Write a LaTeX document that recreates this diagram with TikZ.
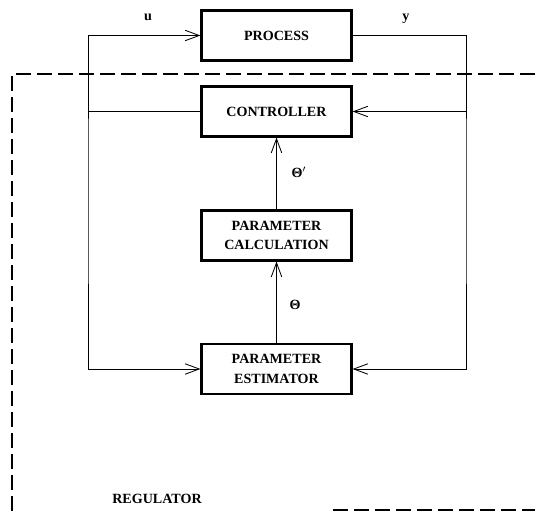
\documentclass[tikz,border=0pt]{standalone}
\usepackage{fontspec}
\setmainfont{Liberation Serif}
\usetikzlibrary{arrows.meta}

\begin{document}
\begin{tikzpicture}[x=0.025cm, y=-0.025cm,
      block/.style={
        draw,
        line width=1.5pt,
        minimum width=3.75cm,
        minimum height=1.25cm,
        align=center,
        font=\bfseries   % caps-only labels inside the boxes
      },
      sig/.style={line width=0.6pt, -{Straight Barb[length=3.5mm,width=2.6mm]}},
      sigboth/.style={line width=0.6pt, {Straight Barb[length=3.5mm,width=2.6mm]}-{Straight Barb[length=3.5mm,width=2.6mm]}},
      lbl/.style={font=\bfseries}
    ]
      \useasboundingbox (0,0) rectangle (535,511);

      \node[block] (proc) at (276.5,35.5) {PROCESS};
      \node[block] (ctrl) at (276.5,111.5) {CONTROLLER};
      \node[block] (calc) at (276.5,235.5) {PARAMETER\\[2pt]CALCULATION};
      \node[block] (est)  at (276.5,369)   {PARAMETER\\[2pt]ESTIMATOR};

      % the two feedback rails
      \coordinate (ul) at (88,200);
      \coordinate (ur) at (466,200);

      \node[lbl] (u) at (148,17) {u};
      \node[lbl] (y) at (406,19) {y};
      \node[lbl] (thp) at (299,172) {Θ$'$};
      \node[lbl] (th)  at (295,305) {Θ};

      \draw[sigboth] (proc.west) -| (ul) |- (est.west);
      \draw[line width=0.6pt] (ctrl.west) -- (ctrl.west -| ul);
      \draw[sig] (proc.east) -| (ur) |- (est.east);
      \draw[sig] (ctrl.east -| ur) -- (ctrl.east);
      \draw[sig] (est) -- (calc);
      \draw[sig] (calc) -- (ctrl);

      % regulator boundary
      \draw[dashed, line width=1pt, dash pattern=on 0.375cm off 0.15cm] (535,74) -| (12,511);
      \draw[dashed, line width=1pt, dash pattern=on 0.375cm off 0.15cm] (333,510) -- (535,510);
      \node[lbl] (reg) at (157,499) {REGULATOR};
    \end{tikzpicture}
\end{document}
